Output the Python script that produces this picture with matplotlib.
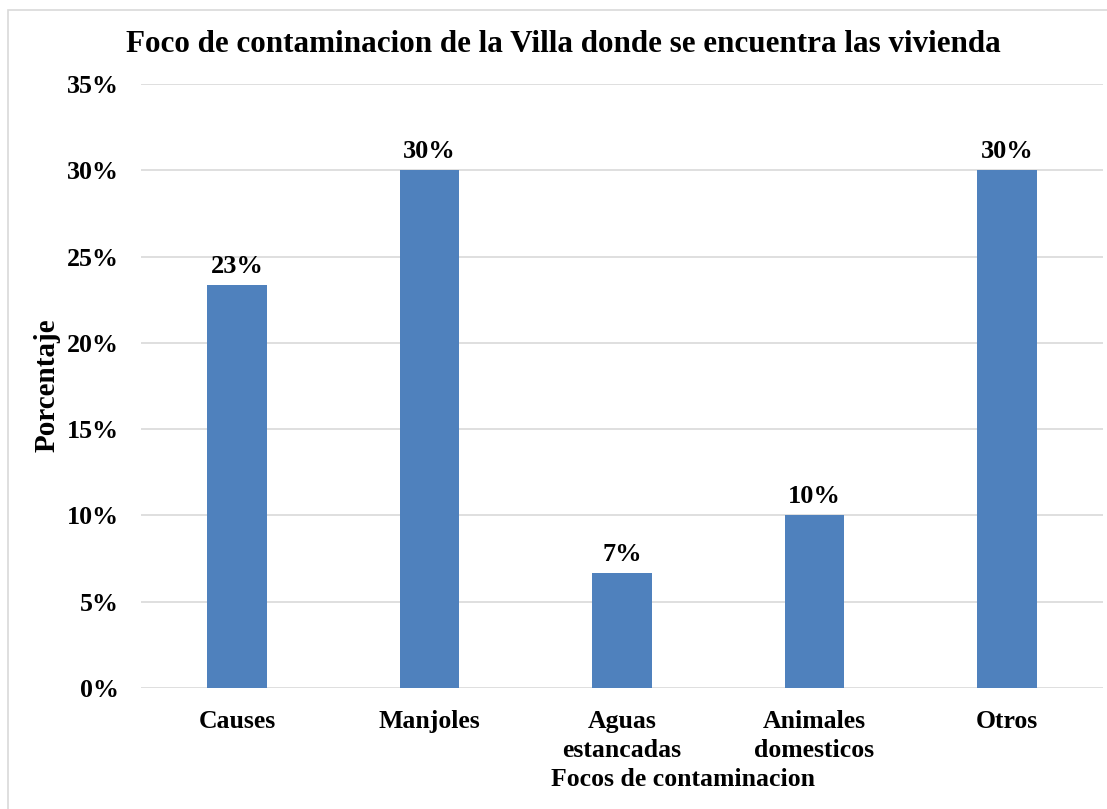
import matplotlib
matplotlib.use("Agg")
import matplotlib.pyplot as plt
from matplotlib.patches import Rectangle

categories = ["Causes", "Manjoles", "Aguas\nestancadas", "Animales\ndomesticos", "Otros"]
values = [23.33, 30.0, 6.67, 10.0, 30.0]
labels = ["23%", "30%", "7%", "10%", "30%"]
yticks = [0, 5, 10, 15, 20, 25, 30, 35]

plt.rcParams['font.family'] = ['Liberation Serif', 'DejaVu Serif']
plt.rcParams['font.weight'] = 'bold'

fig = plt.figure(figsize=(11.07, 8.09), dpi=100)
fig.patches.append(Rectangle((8/1107, -0.01), 1.02, 1 - 10/809 + 0.01, transform=fig.transFigure,
                             fill=False, edgecolor='#d9d9d9', linewidth=1.2))
ax = fig.add_axes([0.1274, 0.1496, 0.869, 0.7466])

x = range(len(categories))
ax.bar(x, values, width=0.31, color='#4f81bd', zorder=3)
for i, (v, l) in enumerate(zip(values, labels)):
    ax.text(i, v + 0.4, l, ha='center', va='bottom', fontsize=19, fontweight='bold')

ax.set_ylim(0, 35)
ax.set_xlim(-0.5, len(categories) - 0.5)
ax.set_yticks(yticks)
ax.set_yticklabels([f"{t}%" for t in yticks], fontsize=18.7, fontweight='bold')
ax.set_xticks(list(x))
ax.set_xticklabels(categories, fontsize=18.5, fontweight='bold', linespacing=1.35)
ax.tick_params(axis='both', length=0)
ax.tick_params(axis='y', pad=16)
ax.tick_params(axis='x', pad=16)
ax.yaxis.grid(True, color='#d9d9d9', linewidth=1.2, zorder=0)
for s in ax.spines.values():
    s.set_visible(False)

fig.text(47/1107, 1 - 385/809, "Porcentaje", rotation=90, ha='center', va='center',
         fontsize=21, fontweight='bold')
fig.text(683/1107, 1 - 780/809, "Focos de contaminacion", ha='center', va='center',
         fontsize=18.5, fontweight='bold')
fig.text(563/1107, 1 - 44/809, "Foco de contaminacion de la Villa donde se encuentra las vivienda",
         ha='center', va='center', fontsize=22.4, fontweight='bold')

fig.savefig("out.png", dpi=100)
